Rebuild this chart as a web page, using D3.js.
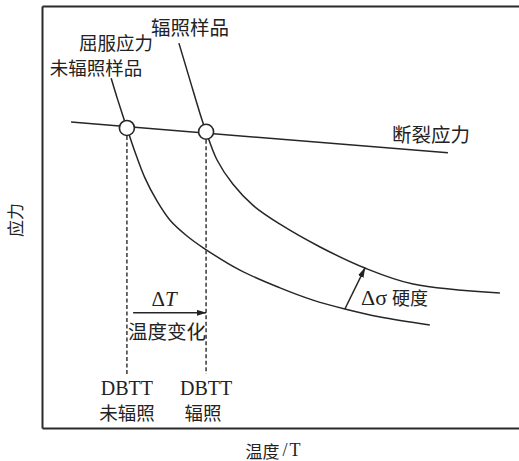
<!DOCTYPE html>
<html>
<head>
<meta charset="utf-8">
<script src="https://cdn.jsdelivr.net/npm/d3@7"></script>
<style>
  html, body { margin: 0; padding: 0; background: #fff; }
  svg { display: block; }
  .cjk { font-family: "Noto Sans CJK SC", "Noto Sans", sans-serif; fill: #222; }
  .lat { font-family: "Liberation Serif", "DejaVu Serif", serif; fill: #222; }
</style>
</head>
<body>
<svg id="chart" width="519" height="461"></svg>
<script>
// Temperature (arbitrary units) vs stress (arbitrary units)

// Yield stress, unirradiated specimen
const unirradiatedT = [14.5, 15.9, 17.8, 19.5, 21.6, 24.1, 26.8, 30.4, 33.8, 41.5, 49.9, 56.8, 63.5, 70.9, 81.3];
const unirradiatedS = [82.9, 77.7, 71.1, 65.4, 59.2, 53.8, 49.3, 45.5, 42.7, 37.4, 33.2, 30.3, 28.2, 26.3, 24.4];

// Yield stress, irradiated specimen
const irradiatedT = [28.7, 31.0, 33.1, 34.4, 36.7, 40.0, 44.2, 49.9, 58.3, 67.7, 77.8, 96.0];
const irradiatedS = [91.2, 82.5, 74.6, 70.2, 63.5, 57.8, 52.8, 48.3, 42.9, 37.9, 34.1, 32.0];

// Fracture stress
const fractureT = [6.1, 85.1];
const fractureS = [72.5, 65.2];

// Ductile-brittle transition temperatures (unirradiated, irradiated)
const dbttT = [17.8, 34.4];
const dbttS = [71.1, 70.2];
const dbttNames = ["未辐照", "辐照"];
const dropBottomS = 12.8;

// Shift ΔT and hardening Δσ arrows
const shiftArrowT = [19.1, 34.4];
const shiftArrowS = 27.3;
const hardenArrowT = [63.5, 67.7];
const hardenArrowS = [28.2, 37.9];

const svg = d3.select("#chart");
const x = d3.scaleLinear().domain([0, 100]).range([42, 519]);
const y = d3.scaleLinear().domain([0, 100]).range([428, 6]);

// Frame
const frameColor = "#2a2a2a";
svg.append("g")
  .attr("transform", `translate(0,${y(0)})`)
  .call(d3.axisBottom(x).tickValues([]).tickSizeOuter(0))
  .call(g => g.select(".domain").attr("stroke", frameColor).attr("stroke-width", 2));
svg.append("g")
  .attr("transform", `translate(0,${y(100)})`)
  .call(d3.axisTop(x).tickValues([]).tickSizeOuter(0))
  .call(g => g.select(".domain").attr("stroke", frameColor).attr("stroke-width", 2));
svg.append("g")
  .attr("transform", `translate(${x(0)},0)`)
  .call(d3.axisLeft(y).tickValues([]).tickSizeOuter(0))
  .call(g => g.select(".domain").attr("stroke", frameColor).attr("stroke-width", 2));

// Arrowhead
svg.append("defs").append("marker")
  .attr("id", "head")
  .attr("viewBox", "0 0 10 6")
  .attr("refX", 9.5).attr("refY", 3)
  .attr("markerWidth", 10).attr("markerHeight", 6)
  .attr("markerUnits", "userSpaceOnUse")
  .attr("orient", "auto")
  .append("path").attr("d", "M0,0L10,3L0,6Z").attr("fill", "#222");

const line = d3.line()
  .x(d => x(d[0])).y(d => y(d[1]))
  .curve(d3.curveCatmullRom.alpha(0.5));
const zip = (a, b) => a.map((v, i) => [v, b[i]]);

const curveStyle = sel => sel.attr("fill", "none").attr("stroke", "#262626").attr("stroke-width", 1.5);

svg.append("path").datum(zip(fractureT, fractureS)).attr("d", d3.line().x(d => x(d[0])).y(d => y(d[1]))).call(curveStyle);
svg.append("path").datum(zip(unirradiatedT, unirradiatedS)).attr("d", line).call(curveStyle);
svg.append("path").datum(zip(irradiatedT, irradiatedS)).attr("d", line).call(curveStyle);

// Dashed drop lines at DBTT
svg.selectAll("line.drop").data(zip(dbttT, dbttS)).enter().append("line")
  .attr("class", "drop")
  .attr("x1", d => x(d[0])).attr("x2", d => x(d[0]))
  .attr("y1", d => y(d[1]) + 8).attr("y2", y(dropBottomS))
  .attr("stroke", "#444").attr("stroke-width", 1.6)
  .attr("stroke-dasharray", "4,2.5");

// Intersection circles
svg.selectAll("circle.dbtt").data(zip(dbttT, dbttS)).enter().append("circle")
  .attr("class", "dbtt")
  .attr("cx", d => x(d[0])).attr("cy", d => y(d[1]))
  .attr("r", 7.5)
  .attr("fill", "#fff").attr("stroke", "#262626").attr("stroke-width", 1.6);

// ΔT arrow
svg.append("line")
  .attr("x1", x(shiftArrowT[0])).attr("x2", x(shiftArrowT[1]))
  .attr("y1", y(shiftArrowS)).attr("y2", y(shiftArrowS))
  .attr("stroke", "#262626").attr("stroke-width", 1.5)
  .attr("marker-end", "url(#head)");

// Δσ arrow
svg.append("line")
  .attr("x1", x(hardenArrowT[0])).attr("x2", x(hardenArrowT[1]))
  .attr("y1", y(hardenArrowS[0])).attr("y2", y(hardenArrowS[1]))
  .attr("stroke", "#262626").attr("stroke-width", 1.5)
  .attr("marker-end", "url(#head)");

// Labels
const txt = (cls, px, py, s, size, anchor) => svg.append("text")
  .attr("class", cls).attr("x", px).attr("y", py)
  .attr("font-size", size).attr("text-anchor", anchor || "middle")
  .attr("dominant-baseline", "central").text(s);

txt("cjk", 190, 26, "辐照样品", 19.5);
txt("cjk", 116, 42, "屈服应力", 18.5);
txt("cjk", 96, 66.5, "未辐照样品", 18.5);
txt("cjk", 431, 133, "断裂应力", 19.5);
txt("cjk", 167, 330, "温度变化", 19.5);

// ΔT
const dT = svg.append("text").attr("class", "lat")
  .attr("x", 164).attr("y", 299).attr("font-size", 21)
  .attr("text-anchor", "middle").attr("dominant-baseline", "central");
dT.append("tspan").text("Δ");
dT.append("tspan").attr("font-style", "italic").text("T");

// Δσ 硬度
const ds = svg.append("text").attr("x", 361).attr("y", 297)
  .attr("dominant-baseline", "central");
ds.append("tspan").attr("class", "lat").attr("font-size", 22).text("Δσ");
ds.append("tspan").attr("class", "cjk").attr("font-size", 18).attr("dx", 5).text("硬度");

// DBTT labels
dbttT.forEach((t, i) => {
  txt("lat", x(t), 388, "DBTT", 20);
  txt("cjk", x(t) - (i ? 3 : 0), 412, dbttNames[i], 18.5);
});

// Axis titles
const xt = svg.append("text").attr("x", 273).attr("y", 450)
  .attr("text-anchor", "middle").attr("dominant-baseline", "central");
xt.append("tspan").attr("class", "cjk").attr("font-size", 17).text("温度");
xt.append("tspan").attr("class", "lat").attr("font-size", 18).attr("dx", 3).text("/");
xt.append("tspan").attr("class", "lat").attr("font-size", 18).attr("dx", 2).text("T");

svg.append("text").attr("class", "cjk")
  .attr("transform", "translate(14,220) rotate(-90)")
  .attr("font-size", 17).attr("text-anchor", "middle")
  .attr("dominant-baseline", "central").text("应力");
</script>
</body>
</html>
